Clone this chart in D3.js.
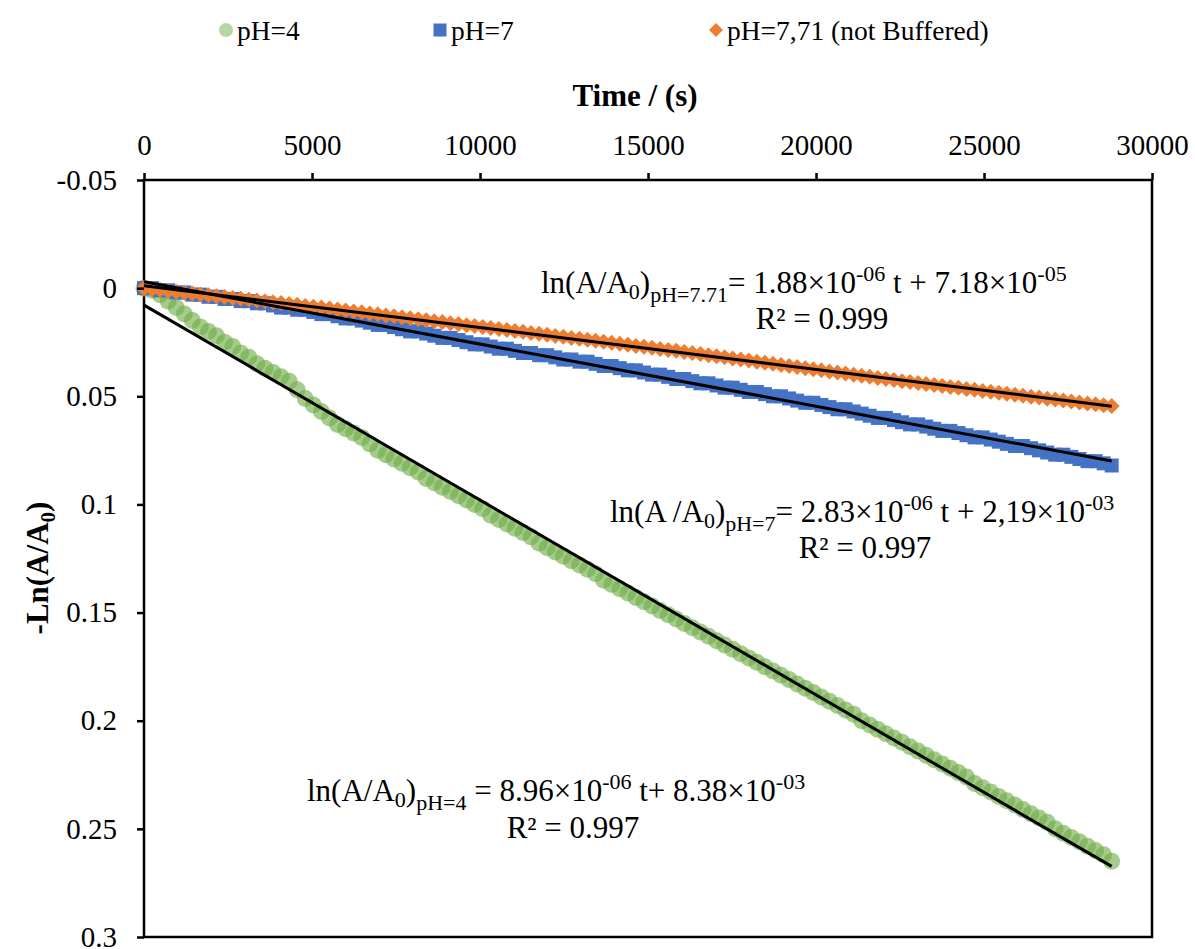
<!DOCTYPE html>
<html>
<head>
<meta charset="utf-8">
<script src="https://cdn.jsdelivr.net/npm/d3@7"></script>
<style>
    body { margin: 0; background: #fff; }
    text { font-family: "Liberation Serif", "Times New Roman", "DejaVu Serif", serif; fill: #000; }
</style>
</head>
<body>
<svg id="chart" width="1195" height="949"></svg>
<script>
// sample times (s)
var TIME_S = [0, 240, 480, 720, 960, 1200, 1440, 1680, 1920, 2160, 2400, 2640, 2880, 3120, 3360, 3600, 3840, 4080, 4320, 4560,
    4800, 5040, 5280, 5520, 5760, 6000, 6240, 6480, 6720, 6960, 7200, 7440, 7680, 7920, 8160, 8400, 8640, 8880, 9120, 9360,
    9600, 9840, 10080, 10320, 10560, 10800, 11040, 11280, 11520, 11760, 12000, 12240, 12480, 12720, 12960, 13200, 13440, 13680, 13920, 14160,
    14400, 14640, 14880, 15120, 15360, 15600, 15840, 16080, 16320, 16560, 16800, 17040, 17280, 17520, 17760, 18000, 18240, 18480, 18720, 18960,
    19200, 19440, 19680, 19920, 20160, 20400, 20640, 20880, 21120, 21360, 21600, 21840, 22080, 22320, 22560, 22800, 23040, 23280, 23520, 23760,
    24000, 24240, 24480, 24720, 24960, 25200, 25440, 25680, 25920, 26160, 26400, 26640, 26880, 27120, 27360, 27600, 27840, 28080, 28320, 28560,
    28800];

// -ln(A/A0), pH=4
var PH4 = [0.000, 0.001, 0.003, 0.006, 0.009, 0.012, 0.015, 0.018, 0.020, 0.022,
    0.025, 0.027, 0.030, 0.032, 0.035, 0.037, 0.039, 0.041, 0.043, 0.047,
    0.051, 0.054, 0.057, 0.060, 0.063, 0.065, 0.067, 0.069, 0.072, 0.075,
    0.077, 0.079, 0.081, 0.083, 0.085, 0.088, 0.090, 0.092, 0.094, 0.096,
    0.098, 0.100, 0.102, 0.105, 0.107, 0.109, 0.111, 0.113, 0.115, 0.118,
    0.120, 0.122, 0.124, 0.126, 0.128, 0.130, 0.132, 0.135, 0.137, 0.139,
    0.141, 0.143, 0.145, 0.147, 0.149, 0.151, 0.153, 0.155, 0.157, 0.159,
    0.161, 0.163, 0.165, 0.167, 0.169, 0.171, 0.173, 0.175, 0.177, 0.179,
    0.181, 0.183, 0.185, 0.187, 0.189, 0.191, 0.193, 0.195, 0.197, 0.200,
    0.202, 0.204, 0.206, 0.208, 0.210, 0.212, 0.214, 0.216, 0.218, 0.220,
    0.222, 0.224, 0.226, 0.229, 0.231, 0.233, 0.235, 0.237, 0.239, 0.241,
    0.243, 0.245, 0.247, 0.250, 0.252, 0.254, 0.256, 0.258, 0.260, 0.262,
    0.265];

// pH=7 (buffered)
var PH7 = [0.000, 0.000, 0.001, 0.001, 0.002, 0.002, 0.003, 0.003, 0.004, 0.004,
    0.005, 0.005, 0.006, 0.006, 0.007, 0.007, 0.008, 0.009, 0.009, 0.010,
    0.010, 0.011, 0.012, 0.012, 0.013, 0.014, 0.014, 0.015, 0.016, 0.017,
    0.017, 0.018, 0.019, 0.020, 0.020, 0.021, 0.022, 0.023, 0.023, 0.024,
    0.025, 0.026, 0.026, 0.027, 0.028, 0.028, 0.029, 0.030, 0.030, 0.031,
    0.031, 0.032, 0.033, 0.033, 0.034, 0.034, 0.035, 0.036, 0.036, 0.037,
    0.038, 0.038, 0.039, 0.040, 0.040, 0.041, 0.042, 0.042, 0.043, 0.044,
    0.044, 0.045, 0.046, 0.046, 0.047, 0.048, 0.048, 0.049, 0.050, 0.050,
    0.051, 0.052, 0.053, 0.053, 0.054, 0.055, 0.056, 0.056, 0.057, 0.058,
    0.059, 0.060, 0.060, 0.061, 0.062, 0.063, 0.063, 0.064, 0.065, 0.066,
    0.066, 0.067, 0.068, 0.069, 0.069, 0.070, 0.071, 0.072, 0.073, 0.073,
    0.074, 0.075, 0.076, 0.077, 0.077, 0.078, 0.079, 0.080, 0.080, 0.081,
    0.082];

// pH=7.71, not buffered
var PH771 = [0.0000, 0.0005, 0.0009, 0.0013, 0.0017, 0.0021, 0.0025, 0.0029, 0.0033, 0.0037,
    0.0041, 0.0045, 0.0049, 0.0053, 0.0057, 0.0061, 0.0065, 0.0069, 0.0073, 0.0077,
    0.0082, 0.0086, 0.0090, 0.0094, 0.0099, 0.0103, 0.0108, 0.0112, 0.0117, 0.0121,
    0.0126, 0.0130, 0.0135, 0.0139, 0.0144, 0.0148, 0.0153, 0.0157, 0.0162, 0.0166,
    0.0171, 0.0175, 0.0180, 0.0184, 0.0189, 0.0193, 0.0198, 0.0202, 0.0207, 0.0211,
    0.0216, 0.0221, 0.0225, 0.0230, 0.0234, 0.0239, 0.0243, 0.0248, 0.0253, 0.0257,
    0.0262, 0.0267, 0.0271, 0.0276, 0.0281, 0.0286, 0.0290, 0.0295, 0.0300, 0.0305,
    0.0310, 0.0315, 0.0320, 0.0325, 0.0330, 0.0335, 0.0340, 0.0345, 0.0350, 0.0355,
    0.0360, 0.0365, 0.0370, 0.0375, 0.0380, 0.0385, 0.0390, 0.0395, 0.0400, 0.0405,
    0.0410, 0.0415, 0.0420, 0.0425, 0.0430, 0.0434, 0.0439, 0.0443, 0.0448, 0.0452,
    0.0457, 0.0461, 0.0466, 0.0470, 0.0475, 0.0479, 0.0484, 0.0488, 0.0493, 0.0497,
    0.0502, 0.0506, 0.0511, 0.0515, 0.0520, 0.0524, 0.0529, 0.0533, 0.0537, 0.0541,
    0.0545];

var SERIES_NAMES = ["pH=4", "pH=7", "pH=7,71 (not Buffered)"];
var X_TICKS = [0, 5000, 10000, 15000, 20000, 25000, 30000];
var Y_TICKS = [-0.05, 0, 0.05, 0.1, 0.15, 0.2, 0.25, 0.3];

// trendline labels, as printed on the chart
var EQ_LABELS = [
    {sub: "pH=7.71", eq: "= 1.88×10", e1: "-06", mid: " t + 7.18×10", e2: "-05", r2: "R² = 0.999", gap: ""},
    {sub: "pH=7", eq: "= 2.83×10", e1: "-06", mid: " t + 2,19×10", e2: "-03", r2: "R² = 0.997", gap: " "},
    {sub: "pH=4", eq: " = 8.96×10", e1: "-06", mid: " t+ 8.38×10", e2: "-03", r2: "R² = 0.997", gap: ""}
];

(function () {
    var svg = d3.select("#chart");
    var plot = {left: 144, right: 1152, top: 180, bottom: 937};

    var x = d3.scaleLinear().domain([0, 30000]).range([plot.left, plot.right]);
    var y = d3.scaleLinear().domain([-0.05, 0.3]).range([plot.top, plot.bottom]);

    var styles = [
        {color: "#70AD47", shape: "circle", size: 17, alpha: 0.62},
        {color: "#4472C4", shape: "square", size: 14, alpha: 1},
        {color: "#ED7D31", shape: "diamond", size: 16, alpha: 1}
    ];
    var seriesValues = [PH4, PH7, PH771];

    var markerPath = function (shape, s) {
        if (shape == "circle") return d3.symbol(d3.symbolCircle, Math.PI * s * s / 4)();
        if (shape == "square") return d3.symbol(d3.symbolSquare, s * s)();
        var h = s / 2;
        return "M0," + (-h) + "L" + h + ",0L0," + h + "L" + (-h) + ",0Z";
    };

    // least squares, same as the Excel linear trendline
    var linFit = function (xs, ys) {
        var n = xs.length, mx = d3.mean(xs), my = d3.mean(ys);
        var sxy = 0, sxx = 0;
        for (var i = 0; i < n; i++) {
            sxy += (xs[i] - mx) * (ys[i] - my);
            sxx += (xs[i] - mx) * (xs[i] - mx);
        }
        var b = sxy / sxx;
        return {slope: b, icpt: my - b * mx};
    };

    // frame
    svg.append("rect")
        .attr("x", plot.left).attr("y", plot.top)
        .attr("width", plot.right - plot.left).attr("height", plot.bottom - plot.top)
        .attr("fill", "none").attr("stroke", "#000").attr("stroke-width", 2.5);

    // markers
    var marksG = svg.append("g");
    seriesValues.forEach(function (vals, k) {
        var st = styles[k];
        marksG.append("g").selectAll("path")
            .data(vals)
            .enter().append("path")
            .attr("d", markerPath(st.shape, st.size))
            .attr("transform", function (d, i) {
                return "translate(" + x(TIME_S[i]) + "," + y(d) + ")";
            })
            .attr("fill", st.color)
            .attr("fill-opacity", st.alpha);
    });

    // trendlines
    var tMin = d3.min(TIME_S), tMax = d3.max(TIME_S);
    seriesValues.forEach(function (vals) {
        var f = linFit(TIME_S, vals);
        svg.append("line")
            .attr("x1", x(tMin)).attr("y1", y(f.icpt + f.slope * tMin))
            .attr("x2", x(tMax)).attr("y2", y(f.icpt + f.slope * tMax))
            .attr("stroke", "#000").attr("stroke-width", 3);
    });

    // axes
    var fmtY = function (d) { return String(+d.toFixed(2)); };
    var xAxis = svg.append("g")
        .attr("transform", "translate(0," + plot.top + ")")
        .call(d3.axisTop(x).tickValues(X_TICKS).tickFormat(d3.format("d")).tickSize(7).tickSizeOuter(0).tickPadding(18));
    var yAxis = svg.append("g")
        .attr("transform", "translate(" + plot.left + ",0)")
        .call(d3.axisLeft(y).tickValues(Y_TICKS).tickFormat(fmtY).tickSize(7).tickSizeOuter(0).tickPadding(20));
    [xAxis, yAxis].forEach(function (ax) {
        ax.select(".domain").remove();
        ax.attr("font-family", null).attr("font-size", null);
        ax.selectAll(".tick line").attr("stroke", "#000").attr("stroke-width", 2.5);
        ax.selectAll(".tick text").attr("font-size", 29).attr("fill", "#000");
    });

    // axis titles
    svg.append("text")
        .attr("x", 635).attr("y", 106)
        .attr("text-anchor", "middle")
        .attr("font-size", 31).attr("font-weight", "bold")
        .text("Time / (s)");

    var yt = svg.append("text")
        .attr("transform", "translate(48,568) rotate(-90)")
        .attr("text-anchor", "middle")
        .attr("font-size", 31).attr("font-weight", "bold");
    yt.append("tspan").text("-Ln(A/A");
    yt.append("tspan").attr("dy", 7).attr("font-size", 21).text("0");
    yt.append("tspan").attr("dy", -7).text(")");

    // legend
    var legendX = [226, 440, 716];
    var lg = svg.append("g");
    SERIES_NAMES.forEach(function (name, k) {
        var st = styles[k];
        lg.append("path")
            .attr("d", markerPath(st.shape, st.shape == "square" ? 13 : 14))
            .attr("transform", "translate(" + legendX[k] + ",30)")
            .attr("fill", st.color)
            .attr("fill-opacity", st.shape == "circle" ? 0.5 : 1);
        lg.append("text")
            .attr("x", legendX[k] + 11).attr("y", 40)
            .attr("font-size", 27.5)
            .text(name);
    });

    // rich text helper: parts = [[string, offset, size]]
    var richText = function (px, py, parts, anchor) {
        var t = svg.append("text")
            .attr("x", px).attr("y", py)
            .attr("font-size", 31)
            .attr("text-anchor", anchor || "start");
        var cur = 0;
        parts.forEach(function (p) {
            var ts = t.append("tspan").text(p[0]);
            if (p[1] != cur) ts.attr("dy", p[1] - cur);
            if (p[2]) ts.attr("font-size", p[2]);
            cur = p[1];
        });
        return t;
    };

    var eqPos = [[541, 293, 822, 329], [610, 522, 865, 558], [307, 801, 573, 838]];
    EQ_LABELS.forEach(function (lab, k) {
        var p = eqPos[k];
        richText(p[0], p[1], [
            ["ln(A" + lab.gap + "/A", 0],
            ["0", 6, 22],
            [")", 0],
            [lab.sub, 9, 22],
            [lab.eq, 0],
            [lab.e1, -12, 22],
            [lab.mid, 0],
            [lab.e2, -12, 22]
        ]);
        richText(p[2], p[3], [[lab.r2, 0]], "middle");
    });
})();
</script>
</body>
</html>
